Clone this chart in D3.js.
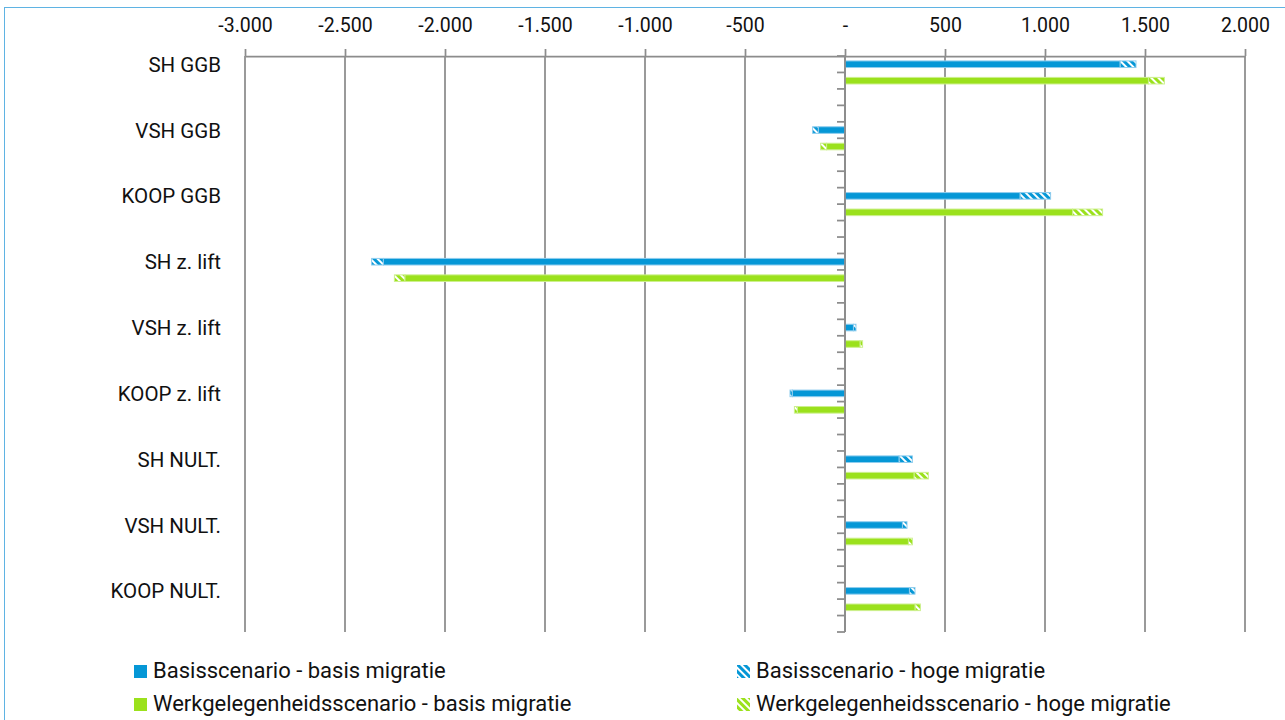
<!DOCTYPE html>
<html>
<head>
<meta charset="utf-8">
<script src="https://cdn.jsdelivr.net/npm/d3@7"></script>
<style>
  html, body { margin: 0; padding: 0; background: #fff; }
  svg { display: block; }
  text { font-family: Roboto, "Liberation Sans", Arial, sans-serif; fill: #111; }
</style>
</head>
<body>
<svg id="chart" width="1285" height="720"></svg>
<script>
// ---- data ----
const categories = ["SH GGB", "VSH GGB", "KOOP GGB", "SH z. lift", "VSH z. lift", "KOOP z. lift", "SH NULT.", "VSH NULT.", "KOOP NULT."];
const basisBasis = [1375, -133, 875, -2308, 42, -263, 270, 287, 322];   // Basisscenario - basis migratie
const basisHoog  = [1455, -162, 1028, -2367, 55, -275, 337, 310, 350];  // Basisscenario - hoge migratie
const werkBasis  = [1517, -92, 1138, -2200, 75, -238, 345, 317, 350];   // Werkgelegenheidsscenario - basis migratie
const werkHoog   = [1597, -122, 1288, -2253, 88, -253, 417, 337, 377];  // Werkgelegenheidsscenario - hoge migratie
const tickValues = [-3000, -2500, -2000, -1500, -1000, -500, 0, 500, 1000, 1500, 2000];
const legendLabels = [
  "Basisscenario - basis migratie",
  "Basisscenario - hoge migratie",
  "Werkgelegenheidsscenario - basis migratie",
  "Werkgelegenheidsscenario - hoge migratie"
];

// ---- styles ----
const BLUE = "#0597d6", BLUE_LIGHT = "#8fcdee";
const GREEN = "#9be11c", GREEN_LIGHT = "#cdf08e";
const GRID = "#8c8c8c";

const svg = d3.select("#chart");

// outer border
svg.append("rect").attr("x", 4.5).attr("y", 7.5).attr("width", 1300).attr("height", 730)
  .attr("fill", "none").attr("stroke", "#5fb3e3").attr("stroke-width", 1);

// patterns
const defs = svg.append("defs");
function hatch(id, color) {
  const p = defs.append("pattern").attr("id", id).attr("patternUnits", "userSpaceOnUse")
    .attr("width", 5).attr("height", 5).attr("patternTransform", "rotate(-45)");
  p.append("rect").attr("width", 5).attr("height", 5).attr("fill", "#fff");
  p.append("rect").attr("width", 3).attr("height", 5).attr("fill", color);
}
hatch("hatchBlue", BLUE);
hatch("hatchGreen", GREEN);

// ---- scales ----
const x = d3.scaleLinear().domain([-3000, 2000]).range([245, 1245]);
const nSlots = categories.length * 4 - 1; // blue, green, two empty slots per category
const y = d3.scaleBand().domain(d3.range(nSlots)).range([56, 632]).paddingInner(0).paddingOuter(0);
const plotTop = 56, plotBottom = 632;

const nl = d3.formatLocale({ decimal: ",", thousands: ".", grouping: [3], currency: ["", ""] });
const fmt = nl.format(",d");
const tickFmt = v => v === 0 ? "-" : fmt(v).replace("−", "-");

// gridlines
svg.append("g").selectAll("line").data(tickValues).join("line")
  .attr("x1", d => x(d)).attr("x2", d => x(d))
  .attr("y1", plotTop).attr("y2", plotBottom)
  .attr("stroke", GRID).attr("stroke-width", 1.75);

// top axis
const axisG = svg.append("g").attr("transform", `translate(0,${plotTop})`)
  .call(d3.axisTop(x).tickValues(tickValues).tickFormat(tickFmt).tickSizeInner(7).tickSizeOuter(0).tickPadding(17));
axisG.select(".domain").attr("stroke", GRID).attr("stroke-width", 1.75);
axisG.selectAll(".tick line").attr("stroke", GRID).attr("stroke-width", 1.75);
axisG.selectAll(".tick text").attr("font-size", 19.5).attr("font-family", "Roboto, sans-serif").attr("fill", "#111");

// zero axis tick marks (slot boundaries)
svg.append("g").selectAll("line").data(d3.range(nSlots + 1)).join("line")
  .attr("x1", x(0) - 8).attr("x2", x(0))
  .attr("y1", d => plotTop + d * y.step()).attr("y2", d => plotTop + d * y.step())
  .attr("stroke", GRID).attr("stroke-width", 1.75);

// ---- bars ----
const barH = 6.6;
const rows = [];
categories.forEach((c, i) => {
  rows.push({ slot: i * 4, base: basisBasis[i], high: basisHoog[i], color: BLUE, light: BLUE_LIGHT, pat: "url(#hatchBlue)" });
  rows.push({ slot: i * 4 + 1, base: werkBasis[i], high: werkHoog[i], color: GREEN, light: GREEN_LIGHT, pat: "url(#hatchGreen)" });
});
const barsG = svg.append("g");
rows.forEach(r => {
  const yc = y(r.slot) + y.bandwidth() / 2;
  // hatched (hoge migratie increment)
  barsG.append("rect")
    .attr("x", Math.min(x(r.base), x(r.high))).attr("width", Math.abs(x(r.high) - x(r.base)))
    .attr("y", yc - barH / 2).attr("height", barH)
    .attr("fill", r.pat).attr("stroke", r.light).attr("stroke-width", 1);
  // solid (basis migratie)
  barsG.append("rect")
    .attr("x", Math.min(x(0), x(r.base))).attr("width", Math.abs(x(r.base) - x(0)))
    .attr("y", yc - barH / 2).attr("height", barH)
    .attr("fill", r.color).attr("stroke", r.light).attr("stroke-width", 1);
});

// redraw zero axis on top
svg.append("line").attr("x1", x(0)).attr("x2", x(0)).attr("y1", plotTop).attr("y2", plotBottom)
  .attr("stroke", GRID).attr("stroke-width", 1.75);

// category labels
svg.append("g").selectAll("text").data(categories).join("text")
  .attr("x", 221)
  .attr("y", (d, i) => y(i * 4) + y.bandwidth() / 2 + 7.5)
  .attr("text-anchor", "end")
  .attr("font-size", 20.5)
  .text(d => d);

// ---- legend ----
const legendItems = [
  { label: legendLabels[0], fill: BLUE, x: 134, y: 678 },
  { label: legendLabels[1], fill: "url(#hatchBlue)", x: 737, y: 678 },
  { label: legendLabels[2], fill: GREEN, x: 134, y: 711 },
  { label: legendLabels[3], fill: "url(#hatchGreen)", x: 737, y: 711 }
];
const lg = svg.append("g").selectAll("g").data(legendItems).join("g");
lg.append("rect").attr("x", d => d.x).attr("y", d => d.y - 13).attr("width", 13).attr("height", 13)
  .attr("fill", d => d.fill);
lg.append("text").attr("x", d => d.x + 19).attr("y", d => d.y).attr("font-size", 22).text(d => d.label);
</script>
</body>
</html>
